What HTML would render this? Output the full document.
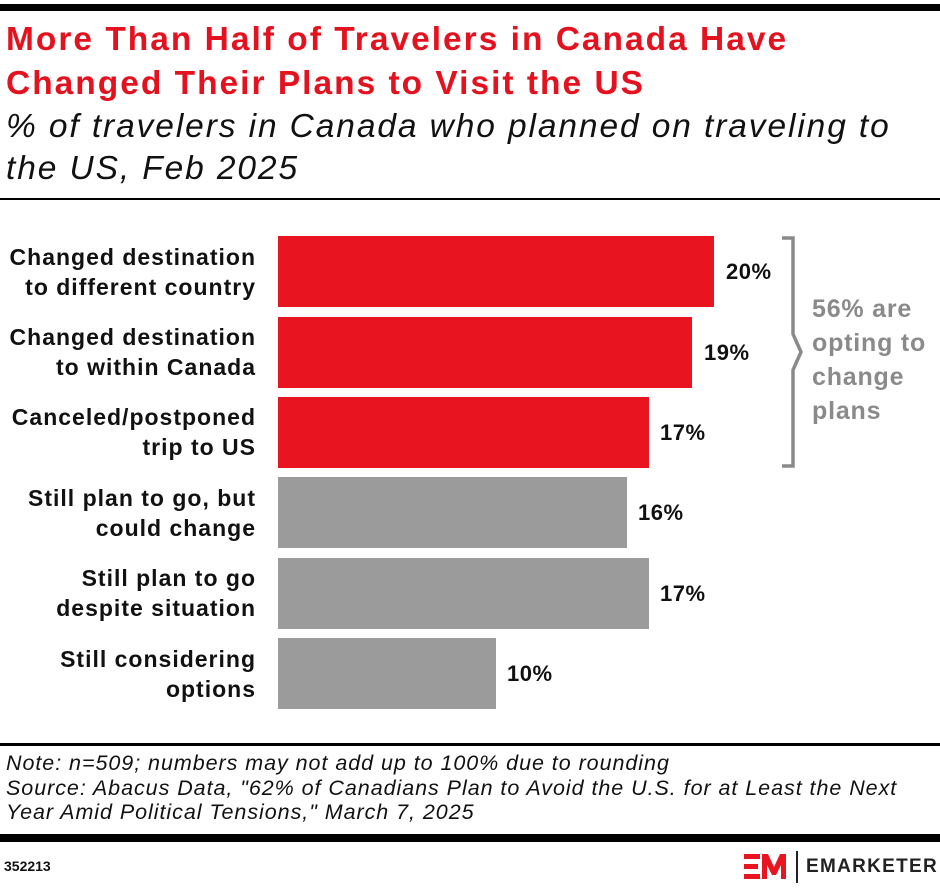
<!DOCTYPE html>
<html><head><style>
body{margin:0;width:940px;height:892px;background:#fff;font-family:"Liberation Sans",sans-serif;position:relative;overflow:hidden}
.a{position:absolute}
.t{left:6px;top:18px;color:#e3121e;font-weight:bold;font-size:33.5px;line-height:44px;letter-spacing:2px;white-space:nowrap}
.s{left:6px;top:106px;font-style:italic;font-size:33.5px;line-height:42px;color:#111;letter-spacing:1.9px;white-space:nowrap}
.lab{right:684px;text-align:right;font-weight:bold;font-size:23px;line-height:30px;color:#111;letter-spacing:1px;white-space:nowrap}
.bar{left:278px;height:71px}
.v{font-weight:bold;font-size:22px;color:#111;letter-spacing:0.5px}
.n{left:6px;top:751px;font-style:italic;font-size:21.5px;line-height:24.5px;color:#111;letter-spacing:0.95px;white-space:nowrap}
</style></head><body>
<div class="a" style="left:0;top:4px;width:940px;height:7px;background:#000"></div>
<div class="a t">More Than Half of Travelers in Canada Have<br>Changed Their Plans to Visit the US</div>
<div class="a s">% of travelers in Canada who planned on traveling to<br>the US, Feb 2025</div>
<div class="a" style="left:0;top:198px;width:940px;height:2px;background:#000"></div>

<div class="a lab" style="top:242px">Changed destination<br>to different country</div>
<div class="a lab" style="top:322px">Changed destination<br>to within Canada</div>
<div class="a lab" style="top:402px">Canceled/postponed<br>trip to US</div>
<div class="a lab" style="top:483px">Still plan to go, but<br>could change</div>
<div class="a lab" style="top:563px">Still plan to go<br>despite situation</div>
<div class="a lab" style="top:644px">Still considering<br>options</div>

<div class="a bar" style="top:236px;width:436px;background:#e8141f"></div>
<div class="a bar" style="top:317px;width:414px;background:#e8141f"></div>
<div class="a bar" style="top:397px;width:371px;background:#e8141f"></div>
<div class="a bar" style="top:477px;width:349px;background:#9b9b9b"></div>
<div class="a bar" style="top:558px;width:371px;background:#9b9b9b"></div>
<div class="a bar" style="top:638px;width:218px;background:#9b9b9b"></div>

<div class="a v" style="left:726px;top:259px">20%</div>
<div class="a v" style="left:704px;top:340px">19%</div>
<div class="a v" style="left:660px;top:420px">17%</div>
<div class="a v" style="left:638px;top:500px">16%</div>
<div class="a v" style="left:660px;top:581px">17%</div>
<div class="a v" style="left:507px;top:661px">10%</div>

<svg class="a" style="left:775px;top:234px" width="30" height="236">
<path d="M7 4 H18 V100 L26 118 L18 136 V232 H7" fill="none" stroke="#8a8a8a" stroke-width="3.5"/>
</svg>
<div class="a" style="left:812px;top:292px;font-weight:bold;font-size:25px;line-height:34px;color:#8a8a8a;letter-spacing:0.8px;white-space:nowrap">56% are<br>opting to<br>change<br>plans</div>

<div class="a" style="left:0;top:743px;width:940px;height:3px;background:#000"></div>
<div class="a n">Note: n=509; numbers may not add up to 100% due to rounding<br>Source: Abacus Data, "62% of Canadians Plan to Avoid the U.S. for at Least the Next<br>Year Amid Political Tensions," March 7, 2025</div>
<div class="a" style="left:0;top:834px;width:940px;height:8px;background:#000"></div>
<div class="a" style="left:4px;top:858px;font-size:14px;font-weight:bold;color:#111">352213</div>
<svg class="a" style="left:742px;top:851px" width="50" height="34">
<rect x="2" y="3" width="16" height="5" fill="#e8141f"/><rect x="2" y="13" width="14" height="5" fill="#e8141f"/><rect x="2" y="23" width="16" height="5" fill="#e8141f"/>
<path d="M20 28 V3 H26 L32 16 L38 3 H44 V28 H39 V14 L34 24 H30 L25 14 V28Z" fill="#e8141f"/>
</svg>
<div class="a" style="left:796px;top:851px;width:2px;height:32px;background:#222"></div>
<div class="a" style="left:806px;top:856px;font-weight:bold;font-size:19px;letter-spacing:1.3px;color:#222">EMARKETER</div>
</body></html>
